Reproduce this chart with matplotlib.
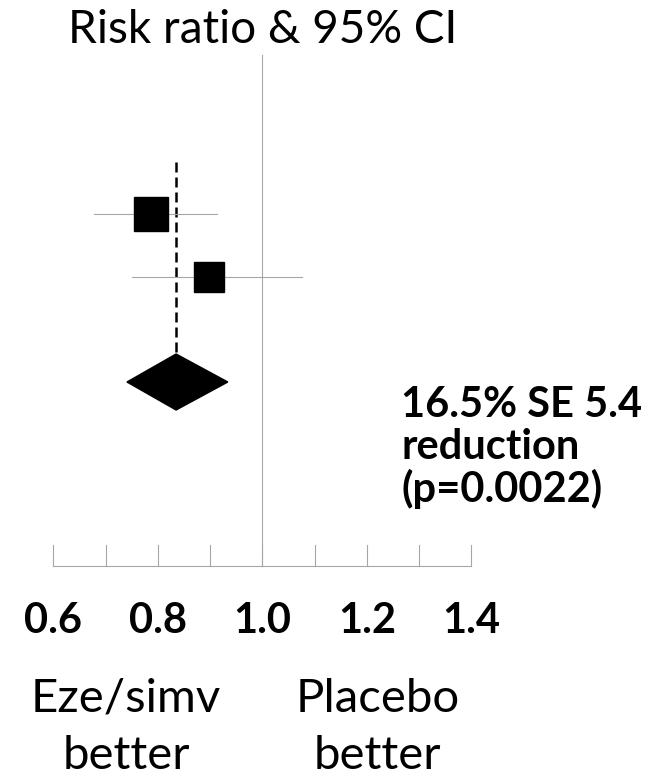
import matplotlib
matplotlib.use("Agg")
import matplotlib.pyplot as plt
from matplotlib.patches import Polygon

# data
studies = ["Study 1", "Study 2"]
rr = [0.787, 0.898]
ci_low = [0.678, 0.751]
ci_high = [0.913, 1.076]
pooled_rr = 0.835
pooled_low = 0.741
pooled_high = 0.934
tick_values = [0.6, 0.7, 0.8, 0.9, 1.0, 1.1, 1.2, 1.3, 1.4]
tick_labels = ["0.6", "0.8", "1.0", "1.2", "1.4"]
label_values = [0.6, 0.8, 1.0, 1.2, 1.4]
result_lines = ["16.5% SE 5.4", "reduction", "(p=0.0022)"]

# layout (vertical axis runs in pixels from the top)
row_y = [214, 277]
square_sizes = [24.5, 21]
pooled_y = 382
diamond_half = 28
grey = "#a6a6a6"

plt.rcParams["font.family"] = ["Lato", "DejaVu Sans"]

fig = plt.figure(figsize=(6.67, 7.81), dpi=100)
ax = fig.add_axes([0, 0, 1, 1])
ax.set_xlim(0.498, 1.7745)
ax.set_ylim(781, 0)
ax.axis("off")

# line of no effect and the scale
ax.plot([1.0, 1.0], [55, 566], color=grey, lw=0.8)
ax.plot([tick_values[0], tick_values[-1]], [566, 566], color=grey, lw=0.8)
for t in tick_values:
    ax.plot([t, t], [545, 566], color=grey, lw=0.8)
for v, lab in zip(label_values, tick_labels):
    ax.text(v, 633, lab, ha="center", va="baseline", fontsize=30, fontweight="bold")

# pooled estimate reference line
dash, = ax.plot([pooled_rr, pooled_rr], [162, pooled_y - diamond_half], color="black", lw=1.8)
dash.set_dashes([4, 2])

# individual studies
for i in range(len(studies)):
    ax.plot([ci_low[i], ci_high[i]], [row_y[i], row_y[i]], color=grey, lw=0.8)
    ax.plot(rr[i], row_y[i], marker="s", color="black", markersize=square_sizes[i], linestyle="none")

# pooled diamond
diamond = Polygon([(pooled_low, pooled_y), (pooled_rr, pooled_y - diamond_half),
                   (pooled_high, pooled_y), (pooled_rr, pooled_y + diamond_half)],
                  closed=True, facecolor="black", edgecolor="black")
ax.add_patch(diamond)

ax.text(1.0, 43, "Risk ratio & 95% CI", ha="center", va="baseline", fontsize=33)

for line, y in zip(result_lines, [417, 459, 502]):
    ax.text(1.2655, y, line, ha="left", va="baseline", fontsize=30, fontweight="bold")

ax.text(0.739, 712, "Eze/simv", ha="center", va="baseline", fontsize=34)
ax.text(0.739, 769, "better", ha="center", va="baseline", fontsize=34)
ax.text(1.221, 712, "Placebo", ha="center", va="baseline", fontsize=34)
ax.text(1.221, 769, "better", ha="center", va="baseline", fontsize=34)

fig.savefig("out.png", dpi=100)
